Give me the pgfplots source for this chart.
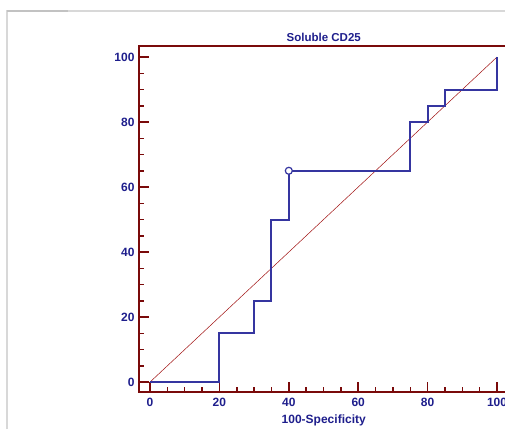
\documentclass[border=0pt]{standalone}
\usepackage{pgfplots}
\pgfplotsset{compat=1.18}
\usepackage{fontspec}
\setmainfont{Liberation Sans}
\definecolor{navy}{HTML}{1E1E8C}
\definecolor{curve}{HTML}{3535A0}
\definecolor{frame}{HTML}{7A0A0A}
\definecolor{diag}{HTML}{A01010}
\definecolor{lgray}{HTML}{D8D8D8}
\begin{document}
\begin{tikzpicture}[x=1pt,y=1pt]
\begin{axis}[
  scale only axis,
  width=369.4pt, height=346.0pt,
  xmin=-3.17, xmax=103.3,
  ymin=-3.08, ymax=103.38,
  axis line style={frame, line width=2pt},
  xtick={0,20,40,60,80,100},
  ytick={0,20,40,60,80,100},
  minor x tick num=3, minor y tick num=3,
  tick align=inside,
  xtick pos=lower, ytick pos=left,
  major tick length=10pt, minor tick length=5pt,
  every tick/.style={frame, line width=1.5pt},
  /pgf/number format/assume math mode=true,
  ticklabel style={font=\bfseries\fontsize{12}{12}\selectfont, text=navy},
  yticklabel style={xshift=-1pt},
  xticklabel style={yshift=-2.5pt},
  title={Soluble CD25},
  title style={font=\bfseries\fontsize{11.5}{12}\selectfont, text=navy, yshift=-5pt},
  xlabel={100-Specificity},
  xlabel style={font=\bfseries\fontsize{12}{12}\selectfont, text=navy, yshift=-1pt},
  clip=false,
]
\coordinate (bbsw) at (axis cs:-43.23,-14.46);
\coordinate (bbne) at (axis cs:102.3,117.54);
\coordinate (gtl) at (axis cs:-41.2,114.15);
\coordinate (gtm) at (axis cs:-23.6,114.15);
\coordinate (gbl) at (axis cs:-41.2,-14.46);
\addplot[diag, line width=0.5pt] coordinates {(0,0) (100,100)};
\addplot[curve, line width=2pt, line join=miter] coordinates {
(0,0) (20,0) (20,15) (30,15) (30,25) (35,25) (35,50) (40,50) (40,65)
(75,65) (75,80) (80,80) (80,85) (85,85) (85,90) (100,90) (100,100)};
\addplot[only marks, mark=*, mark size=3.5pt, mark options={fill=white, draw=curve, line width=1.2pt}] coordinates {(40,65)};
\end{axis}
\draw[lgray, line width=1.5pt] (gbl) -- (gtl) -- (gtl -| bbne);
\draw[lgray!90!black, line width=2pt] (gtl) -- (gtm);
\pgfresetboundingbox
\path[use as bounding box] (bbsw) rectangle (bbne);
\end{tikzpicture}
\end{document}
